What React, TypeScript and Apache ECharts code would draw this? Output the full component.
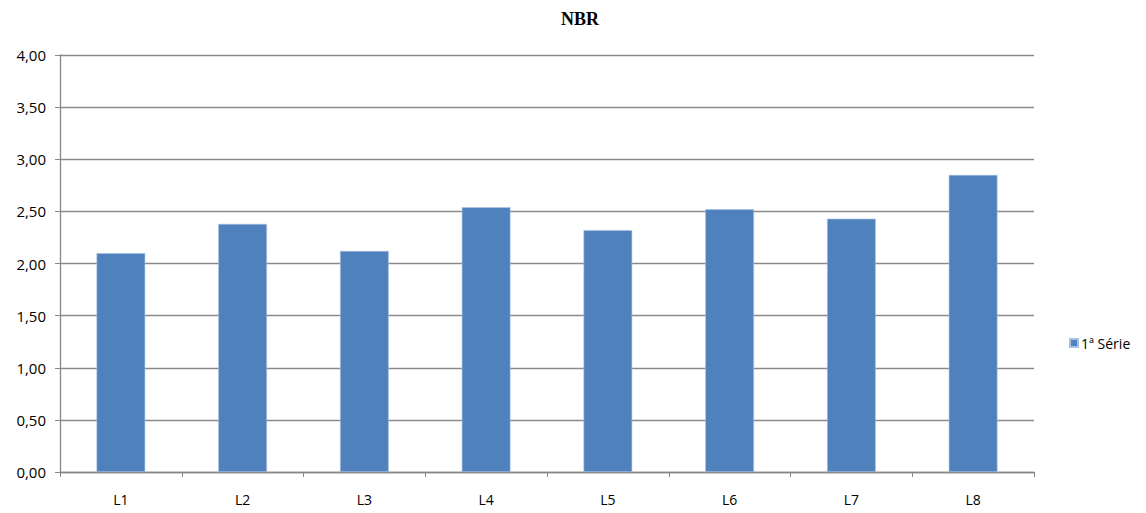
import React, { useEffect, useRef } from "react";
import * as echarts from "echarts";

const categories = ["L1", "L2", "L3", "L4", "L5", "L6", "L7", "L8"];
const seriesName = "1ª Série";
const values = [2.1, 2.38, 2.12, 2.54, 2.32, 2.52, 2.43, 2.85];

export default function App() {
  const ref = useRef<HTMLDivElement>(null);
  useEffect(() => {
    const chart = echarts.init(ref.current!, null, { renderer: "svg" });
    const font = "'Open Sans', 'Noto Sans', sans-serif";
    chart.setOption({
      animation: false,
      backgroundColor: "#ffffff",
      title: {
        text: "NBR",
        left: 575,
        textAlign: "center",
        top: 5,
        textStyle: { fontFamily: "'Liberation Serif', serif", fontWeight: "bold", fontSize: 18, color: "#000" },
      },
      legend: {
        data: [seriesName],
        left: 1064,
        top: 331,
        orient: "vertical",
        itemWidth: 8,
        itemHeight: 8,
        itemGap: 4,
        icon: "rect",
        textStyle: { fontFamily: font, fontSize: 14, color: "#000", padding: [0, 0, 0, -2] },
      },
      grid: { left: 60, right: 112, top: 55, bottom: 41, containLabel: false },
      xAxis: {
        type: "category",
        data: categories,
        axisLine: { lineStyle: { color: "#868686", width: 1.3 } },
        axisTick: { show: true, length: 5, lineStyle: { color: "#868686" } },
        axisLabel: { fontFamily: font, fontSize: 14, color: "#000", margin: 20 },
      },
      yAxis: {
        type: "value",
        min: 0,
        max: 4,
        interval: 0.5,
        axisLine: { show: true, lineStyle: { color: "#868686", width: 1.3 } },
        axisTick: { show: true, length: 5, lineStyle: { color: "#868686" } },
        splitLine: { lineStyle: { color: "#8a8a8a", width: 1.3 } },
        axisLabel: {
          fontFamily: font,
          fontSize: 15,
          color: "#000",
          margin: 14,
          formatter: (v: number) => v.toFixed(2).replace(".", ","),
        },
      },
      series: [
        {
          name: seriesName,
          type: "bar",
          data: values,
          barWidth: "40%",
          itemStyle: { color: "#4F81BD", borderColor: "#A9C2E2", borderWidth: 0.6 },
        },
      ],
    });
    return () => chart.dispose();
  }, []);
  return <div ref={ref} style={{ width: 1146, height: 513, marginLeft: -8, marginTop: -8 }} />;
}
